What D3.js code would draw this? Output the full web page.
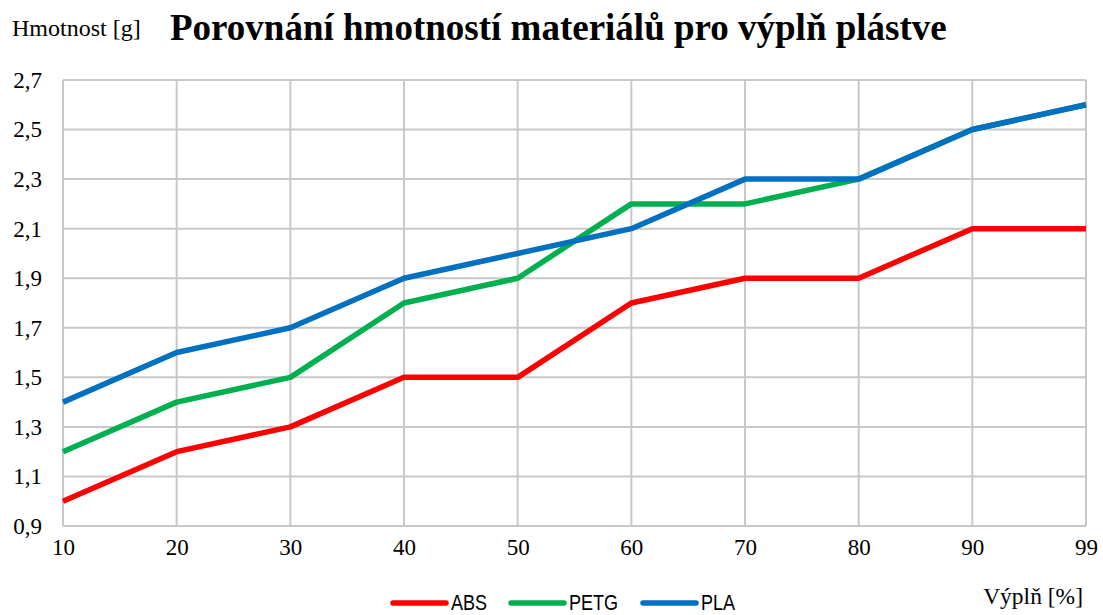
<!DOCTYPE html>
<html>
<head>
<meta charset="utf-8">
<script src="https://cdn.jsdelivr.net/npm/d3@7"></script>
<style>
  html, body { margin: 0; padding: 0; background: #fff; }
  svg { display: block; }
</style>
</head>
<body>
<svg id="chart" width="1103" height="615"></svg>
<script>
// Infill percentages on the x axis
const infill = ["10", "20", "30", "40", "50", "60", "70", "80", "90", "99"];
// Mass in grams for each material
const absMass  = [1.0, 1.2, 1.3, 1.5, 1.5, 1.8, 1.9, 1.9, 2.1, 2.1];
const petgMass = [1.2, 1.4, 1.5, 1.8, 1.9, 2.2, 2.2, 2.3, 2.5, 2.6];
const plaMass  = [1.4, 1.6, 1.7, 1.9, 2.0, 2.1, 2.3, 2.3, 2.5, 2.6];
const yTicks = [0.9, 1.1, 1.3, 1.5, 1.7, 1.9, 2.1, 2.3, 2.5, 2.7];

const seriesNames = ["ABS", "PETG", "PLA"];
const seriesValues = [absMass, petgMass, plaMass];
const seriesColors = ["#ff0000", "#00b050", "#0070c0"];

const svg = d3.select("#chart");
const plotLeft = 63, plotRight = 1086, plotTop = 80, plotBottom = 526;

const x = d3.scalePoint().domain(infill).range([plotLeft, plotRight]);
const y = d3.scaleLinear().domain([0.9, 2.7]).range([plotBottom, plotTop]);
const fmt = v => d3.format(".1f")(v).replace(".", ",");
const serif = "'Liberation Serif', 'Times New Roman', serif";

// Horizontal gridlines
svg.append("g").selectAll("line").data(yTicks).join("line")
  .attr("x1", plotLeft).attr("x2", plotRight)
  .attr("y1", d => y(d)).attr("y2", d => y(d))
  .attr("stroke", "#c8c8c8").attr("stroke-width", 2);

// Vertical gridlines
svg.append("g").selectAll("line").data(infill).join("line")
  .attr("x1", d => x(d)).attr("x2", d => x(d))
  .attr("y1", plotTop).attr("y2", plotBottom)
  .attr("stroke", "#c8c8c8").attr("stroke-width", 2);

// Y axis labels
const yAxis = d3.axisLeft(y).tickValues(yTicks).tickFormat(fmt).tickSize(0).tickPadding(21);
const gy = svg.append("g").attr("transform", `translate(${plotLeft},0)`).call(yAxis);
gy.select(".domain").remove();
gy.selectAll("text").attr("font-family", serif).attr("font-size", 23).attr("fill", "#000");

// X axis labels
const xAxis = d3.axisBottom(x).tickSize(0).tickPadding(13);
const gx = svg.append("g").attr("transform", `translate(0,${plotBottom})`).call(xAxis);
gx.select(".domain").remove();
gx.selectAll("text").attr("font-family", serif).attr("font-size", 23).attr("fill", "#000");

// Series lines
const line = d3.line().x((d, i) => x(infill[i])).y(d => y(d));
svg.append("g").selectAll("path").data(seriesValues).join("path")
  .attr("d", d => line(d))
  .attr("fill", "none")
  .attr("stroke", (d, i) => seriesColors[i])
  .attr("stroke-width", 5.5)
  .attr("stroke-linejoin", "round");

// Title and axis titles
svg.append("text").attr("x", 170).attr("y", 40)
  .attr("font-family", serif).attr("font-weight", "bold").attr("font-size", 37)
  .text("Porovnání hmotností materiálů pro výplň plástve");
svg.append("text").attr("x", 12).attr("y", 36)
  .attr("font-family", serif).attr("font-size", 24)
  .text("Hmotnost [g]");
svg.append("text").attr("x", 1083).attr("y", 604).attr("text-anchor", "end")
  .attr("font-family", serif).attr("font-size", 23.5)
  .text("Výplň [%]");

// Legend with narrow sans labels
const legendX = [393, 511, 643];
const lg = svg.append("g").selectAll("g").data(seriesNames).join("g")
  .attr("transform", (d, i) => `translate(${legendX[i]},603)`);
lg.append("line").attr("x1", 0).attr("x2", 53).attr("y1", 0).attr("y2", 0)
  .attr("stroke", (d, i) => seriesColors[i]).attr("stroke-width", 5.5)
  .attr("stroke-linecap", "round");
lg.append("text")
  .attr("transform", "translate(58,7) scale(0.82,1)")
  .attr("font-family", "'Liberation Sans', Arial, sans-serif").attr("font-size", 22)
  .text(d => d);
</script>
</body>
</html>
